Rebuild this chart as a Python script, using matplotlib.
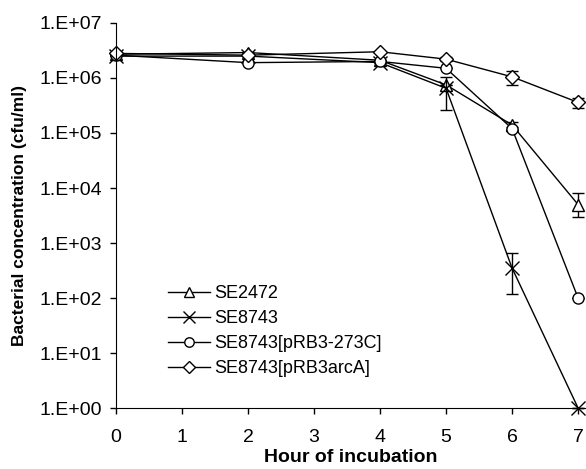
import math

import matplotlib
matplotlib.use("Agg")
import matplotlib.pyplot as plt
import matplotlib.ticker as plticker

plt.rcParams['font.family'] = ['Liberation Sans', 'DejaVu Sans']

hours = [0, 2, 4, 5, 6, 7]

# series values (cfu/ml) with lower/upper error
se2472 = [2.7e6, 2.9e6, 2.1e6, 7.5e5, 1.4e5, 5.0e3]
se2472_err_lo = [0, 0, 0, 0, 2.0e4, 2.0e3]
se2472_err_hi = [0, 0, 0, 0, 2.0e4, 3.0e3]

se8743 = [2.5e6, 2.5e6, 1.9e6, 6.5e5, 3.5e2, 1.0e0]
se8743_err_lo = [0, 0, 0, 3.9e5, 2.3e2, 0]
se8743_err_hi = [0, 0, 0, 4.0e5, 3.0e2, 0]

se8743_273c = [2.6e6, 1.9e6, 2.0e6, 1.5e6, 1.2e5, 1.0e2]
se8743_273c_err = [0, 0, 0, 0, 1.0e4, 0]

se8743_arca = [2.8e6, 2.6e6, 3.0e6, 2.2e6, 1.05e6, 3.6e5]
se8743_arca_err = [0, 0, 0, 2.0e5, 3.0e5, 7.0e4]

labels = ['SE2472', 'SE8743', 'SE8743[pRB3-273C]', 'SE8743[pRB3arcA]']
y_ticks = [1e0, 1e1, 1e2, 1e3, 1e4, 1e5, 1e6, 1e7]

fig = plt.figure(figsize=(5.86, 4.69), dpi=100)
ax = fig.add_axes([0.198, 0.130, 0.802, 0.821])

err_style = dict(fmt='none', ecolor='black', elinewidth=1.0,
                 capsize=4, capthick=1.0, clip_on=False)
line_style = dict(color='black', mfc='white', mec='black', lw=1.0,
                  clip_on=False)

series = [
    (se2472, [se2472_err_lo, se2472_err_hi], '^', 8),
    (se8743, [se8743_err_lo, se8743_err_hi], 'x', 10),
    (se8743_273c, se8743_273c_err, 'o', 8),
    (se8743_arca, se8743_arca_err, 'D', 7),
]
for (vals, err, mk, ms), lab in zip(series, labels):
    ax.errorbar(hours, vals, yerr=err, **err_style)
    ax.plot(hours, vals, marker=mk, ms=ms, label=lab, **line_style)

ax.set_yscale('log')
ax.set_ylim(1, 1e7)
ax.set_xlim(0, 7.12)
ax.set_yticks(y_ticks)
ax.yaxis.set_minor_locator(plticker.NullLocator())
ax.yaxis.set_major_formatter(plticker.FuncFormatter(
    lambda v, _pos: '1.E+%02d' % round(math.log10(v))))
ax.set_xticks(range(8))

for side in ('top', 'right'):
    ax.spines[side].set_visible(False)
ax.tick_params(labelsize=14, direction='out', length=4, width=1)
ax.tick_params(axis='y', pad=6)
ax.tick_params(axis='x', pad=11)

ax.set_xlabel('Hour of incubation', fontsize=14, fontweight='bold', labelpad=2)
ax.set_ylabel('Bacterial concentration (cfu/ml)', fontsize=12.5,
              fontweight='bold', labelpad=9)

ax.legend(loc='lower left', bbox_to_anchor=(0.092, 0.056), frameon=False,
          fontsize=13, handlelength=2.3, handletextpad=0.25,
          labelspacing=0.45, borderpad=0, markerscale=0.85)

fig.savefig('out.png', dpi=100)
